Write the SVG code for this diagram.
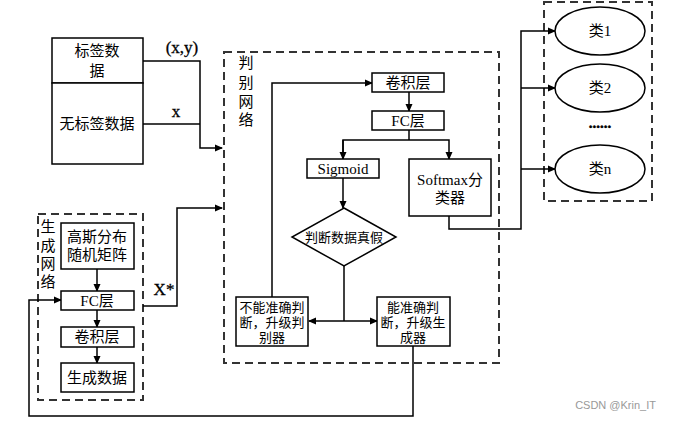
<svg xmlns="http://www.w3.org/2000/svg" width="673" height="421" viewBox="0 0 673 421">
<defs>
<style>
.b{fill:#fff;stroke:#000;stroke-width:1.5}
.d{fill:none;stroke:#333;stroke-width:2;stroke-dasharray:8,5}
.l{fill:none;stroke:#000;stroke-width:1.5}
.t{font-family:"Liberation Serif","Noto Sans CJK SC",serif;font-size:15px;fill:#000;text-anchor:middle}
.s{font-family:"Liberation Serif","Noto Sans CJK SC",serif;font-size:13px;fill:#000;text-anchor:middle}
.e{font-family:"Liberation Serif","Noto Sans CJK SC",serif;font-size:17px;fill:#000;text-anchor:middle;stroke:#000;stroke-width:0.3}
.v{font-family:"Liberation Serif","Noto Sans CJK SC",serif;font-size:15px;fill:#000;text-anchor:middle}
</style>
<marker id="a" markerWidth="8" markerHeight="8" refX="7" refY="4" orient="auto" markerUnits="userSpaceOnUse">
<path d="M0,0.5 L8,4 L0,7.5 Z" fill="#000"/>
</marker>
</defs>
<rect width="673" height="421" fill="#fff"/>

<g id="gen-group">
<rect class="d" x="38" y="214" width="105" height="186"/>
<text class="v" x="48" y="232">生</text>
<text class="v" x="48" y="251">成</text>
<text class="v" x="48" y="269">网</text>
<text class="v" x="48" y="287">络</text>
</g>
<g id="disc-group">
<rect class="d" x="224" y="52" width="275" height="311"/>
<text class="v" x="246" y="68">判</text>
<text class="v" x="246" y="88">别</text>
<text class="v" x="246" y="107">网</text>
<text class="v" x="246" y="125">络</text>
</g>
<g id="class-group">
<rect class="d" x="544" y="2" width="108" height="199"/>
</g>

<g id="connectors">
<polyline class="l" points="143,61 200,61 200,148 222,148" marker-end="url(#a)"/>
<polyline class="l" points="143,124 200,124"/>
<polyline class="l" points="143,306 177,306 177,208 222,208" marker-end="url(#a)"/>
<line class="l" x1="97" y1="269" x2="97" y2="291" marker-end="url(#a)"/>
<line class="l" x1="97" y1="310" x2="97" y2="327" marker-end="url(#a)"/>
<line class="l" x1="97" y1="347" x2="97" y2="363" marker-end="url(#a)"/>
<polyline class="l" points="413,346 413,416 29,416 29,300 61,300" marker-end="url(#a)"/>
<line class="l" x1="409" y1="92" x2="409" y2="111" marker-end="url(#a)"/>
<polyline class="l" points="409,130 409,140"/>
<polyline class="l" points="343,159 343,140 449,140 449,159" marker-end="url(#a)"/>
<line class="l" x1="343" y1="140" x2="343" y2="159" marker-end="url(#a)"/>
<line class="l" x1="343" y1="178" x2="343" y2="208" marker-end="url(#a)"/>
<line class="l" x1="344" y1="266" x2="344" y2="321"/>
<line class="l" x1="344" y1="321" x2="309" y2="321" marker-end="url(#a)"/>
<line class="l" x1="344" y1="321" x2="377" y2="321" marker-end="url(#a)"/>
<polyline class="l" points="272,297 272,83 372,83" marker-end="url(#a)"/>
<polyline class="l" points="449,216 449,229 521,229 521,31 555,31" marker-end="url(#a)"/>
<line class="l" x1="521" y1="88" x2="555" y2="88" marker-end="url(#a)"/>
<line class="l" x1="521" y1="169" x2="555" y2="169" marker-end="url(#a)"/>
<text class="e" x="182" y="53">(x,y)</text>
<text class="e" x="176" y="117">x</text>
<text class="e" x="164" y="295">X*</text>
</g>

<g id="labeled">
<rect class="b" x="52" y="38" width="91" height="45"/>
<text class="t" x="97" y="56">标签数</text>
<text class="t" x="97" y="76">据</text>
</g>
<g id="unlabeled">
<rect class="b" x="52" y="83" width="91" height="81"/>
<text class="t" x="97" y="129">无标签数据</text>
</g>

<g id="gauss">
<rect class="b" x="61" y="223" width="73" height="46"/>
<text class="t" x="97" y="242">高斯分布</text>
<text class="t" x="97" y="260">随机矩阵</text>
</g>
<g id="gen-fc">
<rect class="b" x="61" y="291" width="73" height="19"/>
<text class="t" x="97" y="306">FC层</text>
</g>
<g id="gen-conv">
<rect class="b" x="61" y="327" width="73" height="20"/>
<text class="t" x="97" y="342">卷积层</text>
</g>
<g id="gen-data">
<rect class="b" x="61" y="363" width="73" height="29"/>
<text class="t" x="97" y="383">生成数据</text>
</g>

<g id="disc-conv">
<rect class="b" x="372" y="73" width="72" height="19"/>
<text class="t" x="408" y="88">卷积层</text>
</g>
<g id="disc-fc">
<rect class="b" x="372" y="111" width="72" height="19"/>
<text class="t" x="408" y="126">FC层</text>
</g>
<g id="sigmoid">
<rect class="b" x="307" y="159" width="72" height="19"/>
<text class="t" x="343" y="174">Sigmoid</text>
</g>
<g id="softmax">
<rect class="b" x="409" y="159" width="82" height="57"/>
<text class="t" x="450" y="185">Softmax分</text>
<text class="t" x="450" y="203">类器</text>
</g>
<g id="judge">
<polygon class="b" points="344,208 396,237 344,266 292,237"/>
<text class="s" x="344" y="242">判断数据真假</text>
</g>
<g id="cannot">
<rect class="b" x="236" y="297" width="72" height="49"/>
<text class="s" x="272" y="312">不能准确判</text>
<text class="s" x="272" y="327">断，升级判</text>
<text class="s" x="272" y="342">别器</text>
</g>
<g id="can">
<rect class="b" x="377" y="297" width="73" height="49"/>
<text class="s" x="413" y="312">能准确判</text>
<text class="s" x="413" y="327">断，升级生</text>
<text class="s" x="413" y="342">成器</text>
</g>

<g id="class1">
<ellipse class="b" cx="600" cy="31" rx="45" ry="24"/>
<text class="t" x="600" y="36">类1</text>
</g>
<g id="class2">
<ellipse class="b" cx="600" cy="88" rx="45" ry="24"/>
<text class="t" x="600" y="93">类2</text>
</g>
<text class="t" x="600" y="128" style="font-weight:bold;stroke:#000;stroke-width:0.5">......</text>
<g id="classn">
<ellipse class="b" cx="600" cy="169" rx="45" ry="24"/>
<text class="t" x="600" y="174">类n</text>
</g>

<text x="656" y="409" style="font-family:'Liberation Sans',sans-serif;font-size:11px;fill:#999;text-anchor:end">CSDN @Krin_IT</text>
</svg>
